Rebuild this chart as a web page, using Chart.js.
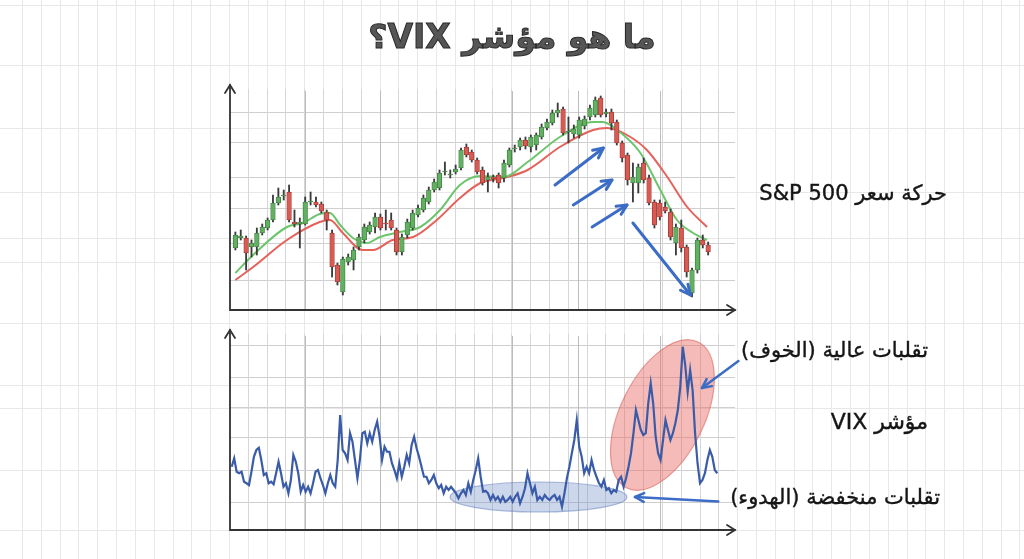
<!DOCTYPE html>
<html>
<head>
<meta charset="utf-8">
<script src="https://cdn.jsdelivr.net/npm/chart.js@4.4.1/dist/chart.umd.min.js"></script>
<style>
  html, body { margin: 0; padding: 0; background: #fff; }
  #wrap { position: relative; width: 1024px; height: 559px; overflow: hidden; font-family: "DejaVu Sans", "Noto Sans", sans-serif; }
  canvas { position: absolute; left: 0; top: 0; }
  .lbl { position: absolute; direction: rtl; white-space: nowrap; color: #151515; line-height: 26px; -webkit-text-stroke: 0.4px #151515; }
  #title { left: 0; width: 1024px; top: 15px; text-align: center; font-size: 33px; line-height: 44px; font-weight: bold; color: #565656; -webkit-text-stroke: 1px #2a2a2a; }
</style>
</head>
<body>
<div id="wrap">
  <canvas id="priceChart" width="1024" height="559"></canvas>
  <canvas id="vixChart" width="1024" height="559"></canvas>
  <div class="lbl" id="title">ما هو مؤشر VIX؟</div>
  <div class="lbl" style="right:77px; top:180px; font-size:21px;">حركة سعر S&amp;P 500</div>
  <div class="lbl" style="right:96px; top:337px; font-size:21px;">تقلبات عالية (الخوف)</div>
  <div class="lbl" style="right:96px; top:409px; font-size:22px;">مؤشر VIX</div>
  <div class="lbl" style="right:84px; top:484px; font-size:21px;">تقلبات منخفضة (الهدوء)</div>
</div>
<script>
// S&P 500 candles (arbitrary price units, one entry per session)
const candleOpen  = [62,72,72,63,63,77,82,90,107,114,118,88,86,86,108,108,106,98,77,45,18,48,50,63,70,78,83,93,87,90,80,58,75,82,95,100,108,120,122,138,135,138,142,163,158,150,140,130,133,135,132,145,161,163,170,163,165,173,182,187,197,201,178,176,175,184,193,195,212,196,198,188,167,155,127,127,147,132,108,107,103,98,67,82,63,17,40,70,65];
const candleClose = [75,74,57,67,77,83,90,107,113,115,90,86,88,108,109,105,99,90,43,28,51,53,60,73,83,85,93,82,86,82,58,73,88,97,102,112,120,128,137,139,136,141,160,155,150,138,127,133,131,127,147,160,162,170,164,173,175,183,188,197,200,177,179,181,190,191,202,210,195,198,187,167,152,130,133,143,130,107,85,93,99,73,83,62,38,40,70,65,58];
const candleHigh  = [78,80,74,70,82,86,92,115,122,120,125,100,92,113,118,113,108,100,80,47,53,56,63,76,86,88,97,96,100,97,82,76,91,100,105,115,123,131,140,148,140,145,162,166,160,152,143,137,135,137,150,162,165,172,173,175,177,186,191,200,207,203,193,185,193,194,205,213,214,201,201,190,169,157,147,146,152,135,110,110,108,101,86,90,65,42,72,75,68];
const candleLow   = [60,70,40,53,55,75,80,88,105,110,88,83,62,85,105,103,97,80,33,25,15,45,40,60,67,76,77,80,80,80,55,55,72,80,93,98,106,118,120,135,132,136,140,153,148,136,125,118,128,122,128,143,158,160,161,158,160,171,180,185,193,175,167,172,172,181,190,193,193,193,180,165,148,125,108,117,127,105,82,90,97,70,55,58,33,13,37,62,55];

// moving averages, read at a few sessions (session index, value)
const maFastIdx = [0,3.3,9.6,12.6,15.7,17.6,19.5,21.9,24.5,26.9,30.6,34.4,38.1,41.8,45.6,49.9,54.4,60.4,66.6,68.4,71.1,75.4,79.1,82.2,85.2,87.8];
const maFast    = [37,55,83,87,96,97,85,72,67,73,78,83,100,125,134,133,148,173,188,188,180,157,120,90,77,70];
const maSlowIdx = [0,3.3,9.6,15.7,17.6,20,23.7,25.6,29.3,33.1,37.5,41.8,45.6,49.9,54.4,60.4,66.6,69.2,72.9,76.6,80.4,84.1,87.8];
const maSlow    = [30,43,70,88,90,77,60,60,70,73,90,112,127,132,140,163,180,182,175,160,133,103,83];

// VIX daily values
const vixValues = [25.3,28.7,23.3,22.7,23.3,19.3,18.7,18.0,23.3,29.3,32.0,32.9,28.0,22.0,22.7,18.7,19.3,18.3,22.7,27.3,
  22.7,17.3,18.7,14.7,20.0,30.0,27.3,22.7,15.3,18.0,15.3,17.3,14.7,18.7,23.3,24.0,20.7,18.0,14.7,18.7,
  22.0,18.7,17.3,28.0,46.0,32.0,30.7,28.0,38.7,35.3,28.0,20.7,28.0,38.7,39.3,34.7,38.7,35.3,40.0,43.3,
  37.3,28.0,33.3,31.3,31.3,26.7,24.0,20.7,26.7,21.3,25.3,30.0,26.7,34.0,37.3,32.7,29.3,25.3,21.3,21.3,
  18.7,20.0,22.0,18.7,16.7,18.0,14.7,17.3,16.0,17.3,16.0,14.7,12.7,14.7,16.0,14.0,18.7,15.3,20.0,24.0,
  28.7,21.3,15.3,15.7,14.7,12.0,14.0,12.0,13.3,11.3,13.3,11.3,12.0,13.3,11.3,13.3,14.7,10.7,13.3,16.7,
  22.7,18.7,14.7,17.3,12.0,13.3,12.0,14.0,12.7,12.0,13.3,14.0,12.0,13.3,9.3,14.7,20.7,25.3,30.7,36.0,
  44.0,33.3,29.3,22.7,25.3,22.7,28.0,24.0,21.3,18.7,17.3,20.0,16.0,16.7,14.7,16.0,15.3,20.0,21.3,17.3,
  20.7,25.3,30.7,38.7,48.0,44.0,40.0,38.0,38.7,50.7,58.7,50.7,37.3,30.7,28.0,36.0,44.0,40.0,36.0,38.7,
  42.7,48.0,57.3,73.3,66.0,55.3,64.0,56.0,38.7,26.7,18.7,20.0,22.7,28.0,32.0,29.3,24.0,22.7];

// where the faint horizontal rules of each panel sit (value units)
const priceGridTicks = [30, 67, 102, 133, 168, 198];
const vixGridTicks = [11, 24, 37, 49, 61, 74];

const GREEN = '#62b062', GREEN_DARK = '#3d7c3d';
const RED = '#d95a52', RED_DARK = '#9c3a34';

function drawArrow(ctx, x1, y1, x2, y2, color, width, head) {
  ctx.save();
  ctx.strokeStyle = color;
  ctx.lineWidth = width;
  ctx.lineCap = 'round';
  ctx.lineJoin = 'round';
  ctx.beginPath();
  ctx.moveTo(x1, y1);
  ctx.lineTo(x2, y2);
  ctx.stroke();
  const a = Math.atan2(y2 - y1, x2 - x1);
  ctx.beginPath();
  ctx.moveTo(x2 - head * Math.cos(a - 0.45), y2 - head * Math.sin(a - 0.45));
  ctx.lineTo(x2, y2);
  ctx.lineTo(x2 - head * Math.cos(a + 0.45), y2 - head * Math.sin(a + 0.45));
  ctx.stroke();
  ctx.restore();
}

function drawAxes(chart) {
  const { ctx, chartArea: ca } = chart;
  ctx.save();
  ctx.strokeStyle = '#333';
  ctx.lineWidth = 1.8;
  ctx.lineCap = 'round';
  ctx.beginPath();
  ctx.moveTo(ca.left, ca.top);
  ctx.lineTo(ca.left, ca.bottom);
  ctx.lineTo(ca.right, ca.bottom);
  ctx.stroke();
  ctx.beginPath();
  ctx.moveTo(ca.left - 5, ca.top + 8);
  ctx.lineTo(ca.left, ca.top);
  ctx.lineTo(ca.left + 5, ca.top + 8);
  ctx.moveTo(ca.right - 8, ca.bottom - 5);
  ctx.lineTo(ca.right, ca.bottom);
  ctx.lineTo(ca.right - 8, ca.bottom + 5);
  ctx.stroke();
  ctx.restore();
}

// darker vertical rules inside a panel
function drawPanelVerticals(chart) {
  const { ctx, chartArea: ca } = chart;
  ctx.save();
  ctx.lineWidth = 1;
  for (let x = 22; x < ca.right; x += 18.82) {
    if (x < ca.left + 4) continue;
    ctx.strokeStyle = '#d6d6d6';
    ctx.beginPath();
    ctx.moveTo(Math.round(x) + 0.5, ca.top + 4);
    ctx.lineTo(Math.round(x) + 0.5, ca.bottom);
    ctx.stroke();
  }
  [305, 380, 512, 578, 660].forEach(x => {
    ctx.strokeStyle = '#bdbdbd';
    ctx.beginPath();
    ctx.moveTo(x + 0.5, ca.top + 6);
    ctx.lineTo(x + 0.5, ca.bottom);
    ctx.stroke();
  });
  ctx.restore();
}

// PAGE BACKGROUND (graph paper) + PRICE PANEL DECORATION
const pricePaper = {
  id: 'pricePaper',
  beforeDraw(chart) {
    const { ctx, width, height } = chart;
    ctx.save();
    ctx.fillStyle = '#fff';
    ctx.fillRect(0, 0, width, height);
    ctx.strokeStyle = '#e8e8e8';
    ctx.lineWidth = 1;
    for (let x = 22; x < width; x += 18.82) {
      ctx.beginPath();
      ctx.moveTo(Math.round(x) + 0.5, 0);
      ctx.lineTo(Math.round(x) + 0.5, height);
      ctx.stroke();
    }
    [5, 65, 128, 192, 238, 262, 323, 385, 408, 470, 530].forEach(y => {
      ctx.beginPath();
      ctx.moveTo(0, y + 0.5);
      ctx.lineTo(width, y + 0.5);
      ctx.stroke();
    });
    ctx.restore();
  },
  beforeDatasetsDraw(chart) {
    drawPanelVerticals(chart);
  },
  afterDraw(chart) {
    drawAxes(chart);
    const x = chart.scales.x, y = chart.scales.y;
    const arrows = [[59.5, 125, 68.5, 162], [62.9, 105, 70.1, 130], [66.4, 83, 72.9, 105], [74, 87, 84.7, 15]];
    arrows.forEach(a => {
      drawArrow(chart.ctx, x.getPixelForValue(a[0]), y.getPixelForValue(a[1]),
        x.getPixelForValue(a[2]), y.getPixelForValue(a[3]), '#3b6cc6', 3, 11);
    });
  }
};

// PRICE CHART (candles as floating bars: wick + body)
const priceCtx = document.getElementById('priceChart').getContext('2d');
const priceChart = new Chart(priceCtx, {
  type: 'bar',
  data: {
    datasets: [
      {
        label: 'Fast MA',
        type: 'line',
        data: maFastIdx.map((d, i) => ({ x: d, y: maFast[i] })),
        borderColor: '#6cc56c',
        borderWidth: 2,
        pointRadius: 0,
        cubicInterpolationMode: 'monotone',
        order: 2
      },
      {
        label: 'Slow MA',
        type: 'line',
        data: maSlowIdx.map((d, i) => ({ x: d, y: maSlow[i] })),
        borderColor: '#e4625b',
        borderWidth: 2,
        pointRadius: 0,
        cubicInterpolationMode: 'monotone',
        order: 3
      },
      {
        label: 'Wick',
        data: candleLow.map((l, i) => ({ x: i, y: [l, candleHigh[i]] })),
        backgroundColor: '#3c3c3c',
        barThickness: 1.2,
        grouped: false,
        order: 1
      },
      {
        label: 'Body',
        data: candleOpen.map((o, i) => ({ x: i, y: [o, candleClose[i]] })),
        backgroundColor: candleOpen.map((o, i) => candleClose[i] >= o ? GREEN : RED),
        borderColor: candleOpen.map((o, i) => candleClose[i] >= o ? GREEN_DARK : RED_DARK),
        borderWidth: 0.8,
        borderSkipped: false,
        barThickness: 4.6,
        grouped: false,
        order: 0
      }
    ]
  },
  options: {
    responsive: false,
    animation: false,
    layout: { padding: { left: 230, right: 289, top: 85, bottom: 249 } },
    plugins: { legend: { display: false }, tooltip: { enabled: false } },
    scales: {
      x: { type: 'linear', min: -1, max: 93, offset: false, grid: { offset: false }, display: false },
      y: {
        min: 0,
        max: 225,
        afterBuildTicks: s => { s.ticks = priceGridTicks.map(v => ({ value: v })); },
        ticks: { display: false },
        grid: { color: '#cfcfcf', drawTicks: false },
        border: { display: false }
      }
    }
  },
  plugins: [pricePaper]
});

// VIX PANEL DECORATION
const vixMarks = {
  id: 'vixMarks',
  beforeDatasetsDraw(chart) {
    drawPanelVerticals(chart);
    const { ctx } = chart;
    const x = chart.scales.x, y = chart.scales.y;
    const ellipse = (a, b, minor, fill, stroke) => {
      const x1 = x.getPixelForValue(a[0]), y1 = y.getPixelForValue(a[1]);
      const x2 = x.getPixelForValue(b[0]), y2 = y.getPixelForValue(b[1]);
      ctx.save();
      ctx.beginPath();
      ctx.ellipse((x1 + x2) / 2, (y1 + y2) / 2, Math.hypot(x2 - x1, y2 - y1) / 2, minor,
        Math.atan2(y2 - y1, x2 - x1), 0, Math.PI * 2);
      ctx.fillStyle = fill;
      ctx.fill();
      ctx.strokeStyle = stroke;
      ctx.lineWidth = 1.2;
      ctx.stroke();
      ctx.restore();
    };
    // calm zone and fear zone
    ellipse([88.6, 13.2], [160.3, 13.2], 15, 'rgba(122,150,205,0.38)', 'rgba(100,128,190,0.55)');
    ellipse([160.3, 16.8], [189.2, 75.2], 42, 'rgba(232,105,98,0.45)', 'rgba(215,95,88,0.6)');
  },
  afterDraw(chart) {
    drawAxes(chart);
    const x = chart.scales.x, y = chart.scales.y;
    drawArrow(chart.ctx, x.getPixelForValue(205.6), y.getPixelForValue(67.6),
      x.getPixelForValue(190.8), y.getPixelForValue(56.8), '#3b6cc6', 2.5, 10);
    drawArrow(chart.ctx, x.getPixelForValue(197.4), y.getPixelForValue(11.4),
      x.getPixelForValue(163.6), y.getPixelForValue(13.2), '#3b6cc6', 2.5, 10);
  }
};

// VIX CHART
const vixCtx = document.getElementById('vixChart').getContext('2d');
const vixChart = new Chart(vixCtx, {
  type: 'line',
  data: {
    datasets: [{
      label: 'VIX',
      data: vixValues.map((v, i) => ({ x: i, y: v })),
      borderColor: '#3a5ca8',
      borderWidth: 2.2,
      pointRadius: 0,
      tension: 0
    }]
  },
  options: {
    responsive: false,
    animation: false,
    layout: { padding: { left: 230, right: 289, top: 330, bottom: 29 } },
    plugins: { legend: { display: false }, tooltip: { enabled: false } },
    scales: {
      x: { type: 'linear', min: -0.7, max: 204.2, display: false },
      y: {
        min: 0,
        max: 80,
        afterBuildTicks: s => { s.ticks = vixGridTicks.map(v => ({ value: v })); },
        ticks: { display: false },
        grid: { color: '#cfcfcf', drawTicks: false },
        border: { display: false }
      }
    }
  },
  plugins: [vixMarks]
});
</script>
</body>
</html>
